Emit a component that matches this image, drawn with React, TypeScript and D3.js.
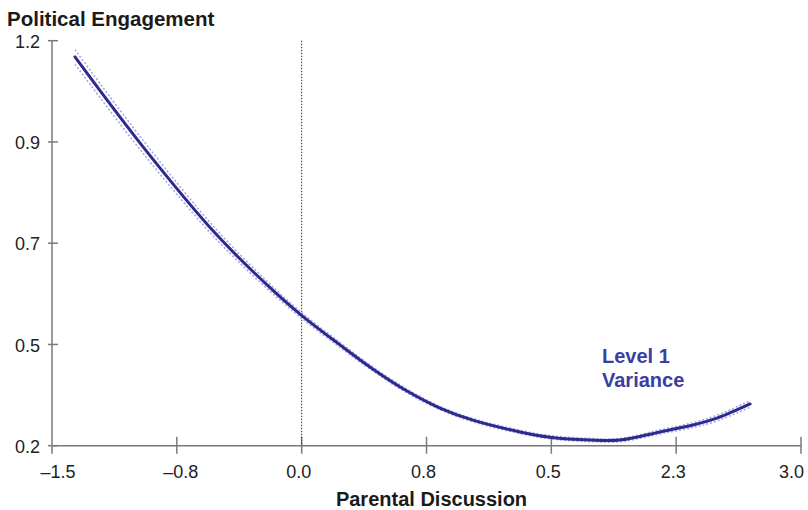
import React from "react";
import * as d3 from "d3";

const xTickValues = [-1.5, -0.75, 0, 0.75, 1.5, 2.25, 3.0];
const xTickLabels = ["\u20131.5", "\u20130.8", "0.0", "0.8", "0.5", "2.3", "3.0"];
const yTickValues = [0.2, 0.45, 0.7, 0.95, 1.2];
const yTickLabels = ["0.2", "0.5", "0.7", "0.9", "1.2"];

const discussion = [-1.362, -0.953, -0.509, -0.208, -0.01, 0.23, 0.429, 0.633, 0.831, 1.029, 1.312, 1.492, 1.732, 1.913, 2.153, 2.351, 2.495, 2.694];
const engagement = [1.16, 0.938, 0.72, 0.597, 0.525, 0.449, 0.389, 0.335, 0.293, 0.263, 0.234, 0.221, 0.214, 0.214, 0.234, 0.251, 0.268, 0.303];
const upperCI = [1.178, 0.954, 0.732, 0.606, 0.532, 0.455, 0.394, 0.34, 0.297, 0.267, 0.238, 0.225, 0.218, 0.218, 0.239, 0.257, 0.275, 0.311];
const lowerCI = [1.142, 0.922, 0.708, 0.588, 0.518, 0.443, 0.384, 0.33, 0.289, 0.259, 0.23, 0.217, 0.21, 0.21, 0.229, 0.245, 0.261, 0.295];

const W = 808;
const H = 510;

export default function App() {
  const x = d3.scaleLinear().domain([-1.5, 3.0]).range([52, 801]);
  const y = d3.scaleLinear().domain([0.2, 1.2]).range([445.7, 40.7]);

  const line = d3
    .line<[number, number]>()
    .x((d) => x(d[0]))
    .y((d) => y(d[1]))
    .curve(d3.curveCatmullRom.alpha(0.5));

  const mainPts = discussion.map((d, i) => [d, engagement[i]] as [number, number]);
  const upPts = discussion.map((d, i) => [d, upperCI[i]] as [number, number]);
  const loPts = discussion.map((d, i) => [d, lowerCI[i]] as [number, number]);

  const axisColor = "#7a7a7a";
  const font = "'Liberation Sans', Arial, Helvetica, sans-serif";
  const last = xTickValues.length - 1;

  return (
    <svg
      width={W}
      height={H}
      style={{ position: "absolute", left: 0, top: 0, background: "#fff" }}
      fontFamily={font}
    >
      <text x={7} y={26} fontSize={20.5} fontWeight="bold" fill="#1a1a1a">
        Political Engagement
      </text>

      {/* y axis */}
      <line x1={x(-1.5)} x2={x(-1.5)} y1={y(1.2)} y2={y(0.2)} stroke={axisColor} strokeWidth={1.5} />
      {yTickValues.map((v, i) => (
        <g key={"yt" + i}>
          <line x1={x(-1.5) - 4} x2={x(-1.5) + 6} y1={y(v)} y2={y(v)} stroke={axisColor} strokeWidth={1.5} />
          <text x={40} y={y(v)} dy="0.4em" textAnchor="end" fontSize={18} fill="#222">
            {yTickLabels[i]}
          </text>
        </g>
      ))}

      {/* x axis */}
      <line x1={x(-1.5)} x2={x(3.0)} y1={y(0.2)} y2={y(0.2)} stroke={axisColor} strokeWidth={1.5} />
      {xTickValues.map((v, i) => (
        <g key={"xt" + i}>
          <line
            x1={x(v)}
            x2={x(v)}
            y1={i === 0 ? y(0.2) : y(0.2) - 9}
            y2={y(0.2) + 8}
            stroke={axisColor}
            strokeWidth={1.5}
          />
          <text
            x={i === last ? 804 : x(v) + (i === 0 ? 6 : i === 1 ? 4 : -3)}
            y={478}
            textAnchor={i === last ? "end" : "middle"}
            fontSize={18}
            fill="#222"
          >
            {xTickLabels[i]}
          </text>
        </g>
      ))}

      {/* reference line at 0 */}
      <line
        x1={x(0)}
        x2={x(0)}
        y1={y(1.2)}
        y2={y(0.2)}
        stroke="#333"
        strokeWidth={1}
        strokeDasharray="1.5,1.5"
      />

      {/* confidence bands */}
      <path d={line(upPts) || ""} fill="none" stroke="#a9a6e6" strokeWidth={1.6} strokeDasharray="2,2" />
      <path d={line(loPts) || ""} fill="none" stroke="#a9a6e6" strokeWidth={1.6} strokeDasharray="2,2" />

      {/* main curve */}
      <path d={line(mainPts) || ""} fill="none" stroke="#2d2a8e" strokeWidth={3} strokeLinecap="round" />

      <text x={602} y={363} fontSize={20} fontWeight="bold" fill="#3a3ea4">
        Level 1
      </text>
      <text x={602} y={387} fontSize={20} fontWeight="bold" fill="#3a3ea4">
        Variance
      </text>

      <text x={431.5} y={506} textAnchor="middle" fontSize={20} fontWeight="bold" fill="#1a1a1a">
        Parental Discussion
      </text>
    </svg>
  );
}
